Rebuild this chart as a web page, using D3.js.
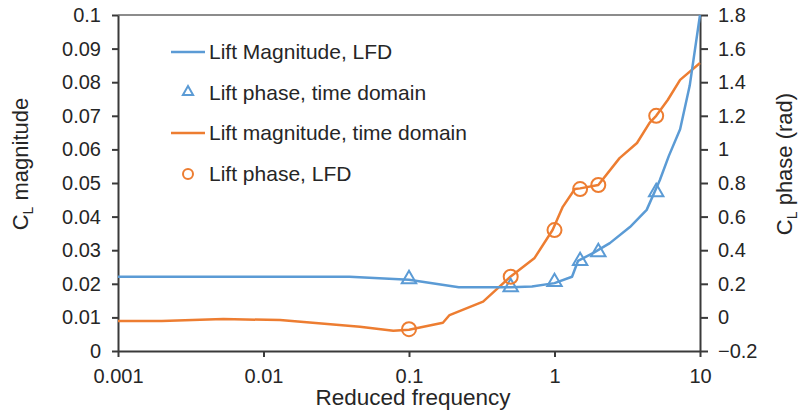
<!DOCTYPE html>
<html>
<head>
<meta charset="utf-8">
<script src="https://cdn.jsdelivr.net/npm/d3@7"></script>
<style>
body { margin: 0; background: #fff; }
text { font-family: "Liberation Sans", Arial, sans-serif; fill: #262626; }
</style>
</head>
<body>
<script>
// blue curve, lift magnitude from LFD (left axis)
var blueFreq = [0.001, 0.039, 0.1, 0.22, 0.5, 0.7, 1.0, 1.32, 1.45, 1.85, 2.4, 3.3, 4.3, 5.3, 6.1, 7.3, 8.5, 10];
var blueMag = [0.0221, 0.0221, 0.0212, 0.0190, 0.0190, 0.0192, 0.0202, 0.0221, 0.0268, 0.0292, 0.0321, 0.0369, 0.0420, 0.0509, 0.0580, 0.0660, 0.0790, 0.1];

// orange curve, lift magnitude from time domain (left axis)
var orangeFreq = [0.001, 0.002, 0.0053, 0.013, 0.046, 0.078, 0.1, 0.171, 0.19, 0.323, 0.5, 0.73, 0.97, 1.14, 1.38, 1.5, 2.0, 2.8, 3.69, 4.5, 5.0, 6.0, 7.3, 10];
var orangeMag = [0.0089, 0.0089, 0.0095, 0.0092, 0.0072, 0.0060, 0.0063, 0.0084, 0.0107, 0.0147, 0.0222, 0.0277, 0.0360, 0.0429, 0.0482, 0.0484, 0.0494, 0.0574, 0.0619, 0.0679, 0.0700, 0.0747, 0.0807, 0.0857];

// markers (right axis, rad)
var triFreq = [0.1, 0.5, 1, 1.5, 2, 5];
var triPhase = [0.222, 0.175, 0.205, 0.33, 0.383, 0.74];
var circFreq = [0.1, 0.5, 1, 1.5, 2, 5];
var circPhase = [-0.07, 0.242, 0.52, 0.764, 0.788, 1.2];

var xTicks = [0.001, 0.01, 0.1, 1, 10];
var leftTicks = [0, 0.01, 0.02, 0.03, 0.04, 0.05, 0.06, 0.07, 0.08, 0.09, 0.1];
var rightTicks = [-0.2, 0, 0.2, 0.4, 0.6, 0.8, 1, 1.2, 1.4, 1.6, 1.8];

var legendNames = ["Lift Magnitude, LFD", "Lift phase, time domain", "Lift magnitude, time domain", "Lift phase, LFD"];

var blue = "#5B9BD5", orange = "#ED7D31";
var W = 799, H = 414;
// note: "top" is taken by window.top, so these get a prefix
var plotL = 118, plotR = 700, plotT = 15, plotB = 351;

var svg = d3.select("body").append("svg")
	.attr("width", W)
	.attr("height", H);

var x = d3.scaleLog().domain([0.001, 10]).range([plotL, plotR]);
var yL = d3.scaleLinear().domain([0, 0.1]).range([plotB, plotT]);
var yR = d3.scaleLinear().domain([-0.2, 1.8]).range([plotB, plotT]);
var fmt = d3.format("~g");

// top border
svg.append("line")
	.attr("x1", plotL).attr("x2", plotR)
	.attr("y1", plotT).attr("y2", plotT)
	.attr("stroke", "#8c8c8c")
	.attr("stroke-width", 2);

var styleAxis = function(g){
	g.selectAll(".domain").attr("stroke", "#3a3a3a").attr("stroke-width", 2);
	g.selectAll(".tick line").attr("stroke", "#3a3a3a").attr("stroke-width", 2);
	g.selectAll(".tick text").attr("font-size", 20).attr("fill", "#262626")
		.attr("font-family", "'Liberation Sans', Arial, sans-serif");
};

svg.append("g")
	.attr("transform", "translate(0," + plotB + ")")
	.call(d3.axisBottom(x).tickValues(xTicks).tickFormat(fmt).tickSize(6).tickSizeOuter(0).tickPadding(12))
	.call(styleAxis);

svg.append("g")
	.attr("transform", "translate(" + plotL + ",0)")
	.call(d3.axisLeft(yL).tickValues(leftTicks).tickFormat(fmt).tickSize(6).tickSizeOuter(0).tickPadding(11))
	.call(styleAxis);

svg.append("g")
	.attr("transform", "translate(" + plotR + ",0)")
	.call(d3.axisRight(yR).tickValues(rightTicks).tickFormat(fmt).tickSize(8).tickSizeOuter(0).tickPadding(10))
	.call(styleAxis);

// curves, straight segments between the read points
var line = d3.line()
	.x(function(d){ return x(d[0]); })
	.y(function(d){ return yL(d[1]); });

svg.append("path")
	.datum(orangeFreq.map(function(f, i){ return [f, orangeMag[i]]; }))
	.attr("d", line)
	.attr("fill", "none")
	.attr("stroke", orange)
	.attr("stroke-width", 2.5)
	.attr("stroke-linejoin", "round");

svg.append("path")
	.datum(blueFreq.map(function(f, i){ return [f, blueMag[i]]; }))
	.attr("d", line)
	.attr("fill", "none")
	.attr("stroke", blue)
	.attr("stroke-width", 2.5)
	.attr("stroke-linejoin", "round");

var tri = d3.symbol().type(d3.symbolTriangle).size(90);
var triSmall = d3.symbol().type(d3.symbolTriangle).size(45);

svg.selectAll(".tri")
	.data(triFreq)
	.enter().append("path")
	.attr("class", "tri")
	.attr("d", tri)
	.attr("transform", function(d, i){ return "translate(" + x(d) + "," + (yR(triPhase[i]) - 1) + ")"; })
	.attr("fill", "none")
	.attr("stroke", blue)
	.attr("stroke-width", 2);

svg.selectAll(".circ")
	.data(circFreq)
	.enter().append("circle")
	.attr("class", "circ")
	.attr("cx", function(d){ return x(d); })
	.attr("cy", function(d, i){ return yR(circPhase[i]); })
	.attr("r", 7)
	.attr("fill", "none")
	.attr("stroke", orange)
	.attr("stroke-width", 2);

// legend
var legY = [52, 93, 133, 174];
for(var i = 0; i < legendNames.length; i++){
	var c = (i < 2) ? blue : orange;
	if(i % 2 == 0){
		svg.append("line")
			.attr("x1", 171).attr("x2", 205)
			.attr("y1", legY[i]).attr("y2", legY[i])
			.attr("stroke", c)
			.attr("stroke-width", 2.5);
	}else if(i == 1){
		svg.append("path")
			.attr("d", triSmall)
			.attr("transform", "translate(188," + (legY[i] - 1) + ")")
			.attr("fill", "none")
			.attr("stroke", c)
			.attr("stroke-width", 2);
	}else{
		svg.append("circle")
			.attr("cx", 188).attr("cy", legY[i])
			.attr("r", 5)
			.attr("fill", "none")
			.attr("stroke", c)
			.attr("stroke-width", 2);
	}
	svg.append("text")
		.attr("x", 209)
		.attr("y", legY[i])
		.attr("dy", ".35em")
		.attr("font-size", 21)
		.text(legendNames[i]);
}

// axis titles
svg.append("text")
	.attr("x", 413)
	.attr("y", 405)
	.attr("text-anchor", "middle")
	.attr("font-size", 22.5)
	.text("Reduced frequency");

var yTitle = function(xPos, rest){
	var t = svg.append("text")
		.attr("transform", "translate(" + xPos + ",164) rotate(-90)")
		.attr("text-anchor", "middle")
		.attr("font-size", 22);
	t.append("tspan").text("C");
	t.append("tspan").attr("font-size", 14).attr("dy", 5).text("L");
	t.append("tspan").attr("dy", -5).text(" " + rest);
};
yTitle(28, "magnitude");
yTitle(792, "phase (rad)");
</script>
</body>
</html>
